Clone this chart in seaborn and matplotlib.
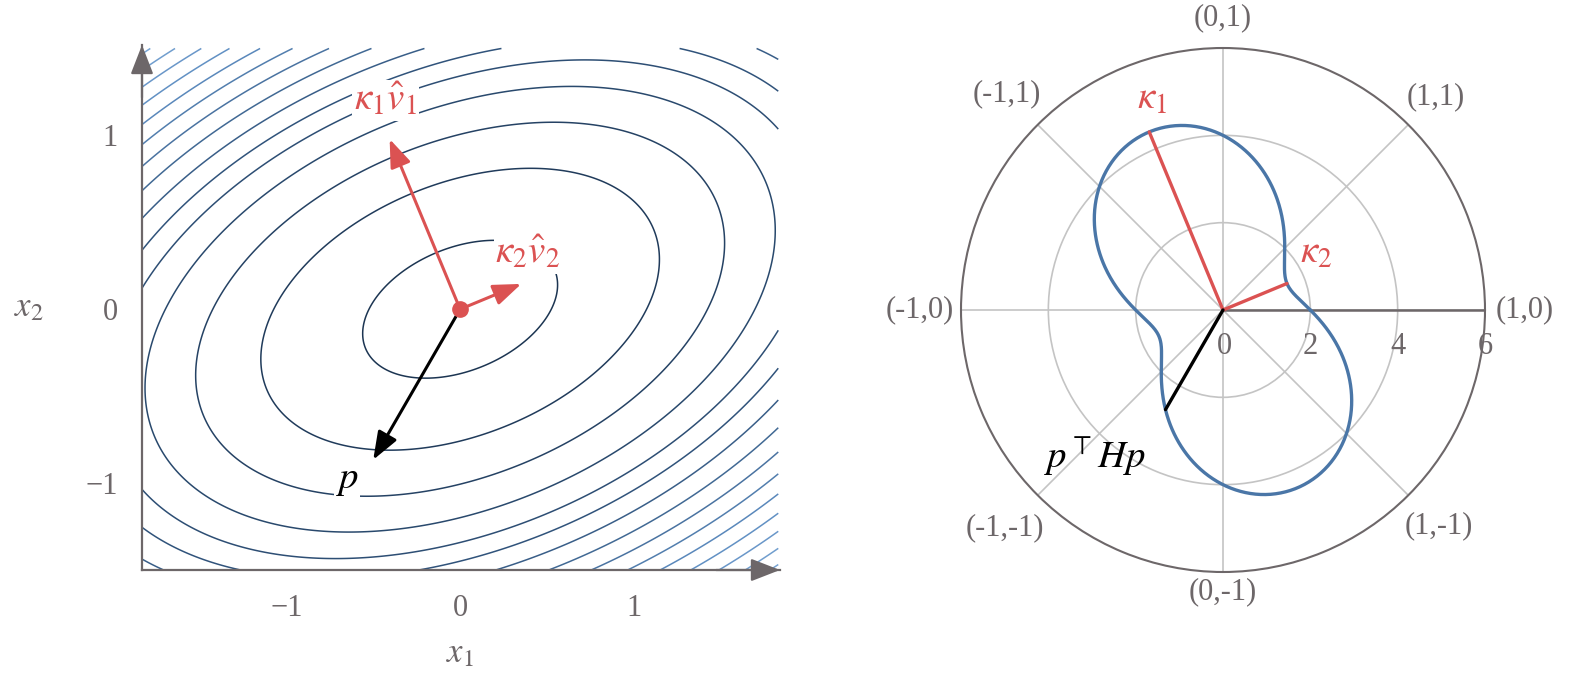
import numpy as np
import matplotlib
matplotlib.use("Agg")
import matplotlib.pyplot as plt
from matplotlib.colors import LinearSegmentedColormap
import seaborn as sns

# Hessian of the quadratic and the chosen direction p
H = np.array([[2.0, -1.0],
              [-1.0, 4.0]])
p_angle_deg = 240.0
arrow_scale = 0.24          # kappa * v_hat is drawn shrunk on the left panel
contour_levels = [0.55, 2.3, 4.05, 5.75, 7.2, 8.4, 9.7, 11.05, 12.4, 13.75,
                  15.1, 16.5, 17.9, 19.3, 20.7, 22.1, 23.5]
x_ticks = [-1, 0, 1]
y_ticks = [-1, 0, 1]
r_ticks = [0, 2, 4, 6]
dir_labels = ['(1,0)', '(1,1)', '(0,1)', '(-1,1)',
              '(-1,0)', '(-1,-1)', '(0,-1)', '(1,-1)']
dir_angles = [0, 45, 90, 135, 180, 225, 270, 315]

GRAY = '#6d6769'
RED = '#db5252'
BLUE = '#4a76a7'
LIGHT = '#c4c4c4'
TICK_FS = 22
MATH_FS = 28

sns.set_theme(style='white')
plt.rcParams['font.family'] = ['Liberation Serif', 'DejaVu Serif']
plt.rcParams['mathtext.fontset'] = 'stix'

# eigen decomposition, sorted so kappa_1 is the largest
kappa, vecs = np.linalg.eigh(H)
order = np.argsort(kappa)[::-1]
kappa = kappa[order]
vecs = vecs[:, order]
v1 = vecs[:, 0] * np.sign(-vecs[0, 0])   # point to upper left
v2 = vecs[:, 1] * np.sign(vecs[0, 1])    # point to upper right
p = np.array([np.cos(np.radians(p_angle_deg)), np.sin(np.radians(p_angle_deg))])

fig = plt.figure(figsize=(15.74, 6.81), dpi=100)

# ---------------- left: contour plot ----------------
ax = fig.add_axes([142 / 1574, 1 - 570 / 681, 638 / 1574, 525 / 681])
xs = np.linspace(-1.83, 1.83, 400)
ys = np.linspace(-1.5, 1.5, 400)
X, Y = np.meshgrid(xs, ys)
F = H[0, 0] * X**2 + 2 * H[0, 1] * X * Y + H[1, 1] * Y**2
cmap = LinearSegmentedColormap.from_list('blu', ['#1c3552', '#2f5279', '#5f8ec2', '#86b0dc'])
ax.contour(X, Y, F, levels=contour_levels, cmap=cmap, linewidths=1.1)
ax.set_xlim(-1.83, 1.84)
ax.set_ylim(-1.5, 1.52)

for s in ['top', 'right']:
    ax.spines[s].set_visible(False)
for s in ['left', 'bottom']:
    ax.spines[s].set_color(GRAY)
    ax.spines[s].set_linewidth(1.6)
ax.set_xticks(x_ticks)
ax.set_yticks(y_ticks)
ax.set_xticklabels(['\u2212' + str(-t) if t < 0 else str(t) for t in x_ticks])
ax.set_yticklabels(['\u2212' + str(-t) if t < 0 else str(t) for t in y_ticks])
ax.tick_params(axis='both', direction='inout', length=13, width=1.0, color=GRAY,
               labelcolor=GRAY, labelsize=TICK_FS)
ax.tick_params(axis='x', pad=11)
ax.tick_params(axis='y', pad=11)

# axis arrow heads
head = dict(arrowstyle='-|>,head_length=0.9,head_width=0.35',
            mutation_scale=20, color=GRAY, lw=1.6, shrinkA=0, shrinkB=0)
ax.annotate('', xy=(0, 1.0), xytext=(0, 0.9), xycoords='axes fraction', arrowprops=head)
ax.annotate('', xy=(1.0, 0), xytext=(0.9, 0), xycoords='axes fraction', arrowprops=head)

ax.set_xlabel(r'$x_1$', fontsize=25, color=GRAY, va='center')
ax.set_ylabel(r'$x_2$', fontsize=25, color=GRAY, rotation=0, ha='center', va='center')
ax.xaxis.set_label_coords(0.498, -0.16)
ax.yaxis.set_label_coords(-0.178, 0.5)

arrow_kw = dict(arrowstyle='-|>,head_length=0.85,head_width=0.32', mutation_scale=20,
                lw=2.2, shrinkA=0, shrinkB=0)
tip1 = kappa[0] * v1 * arrow_scale
tip2 = kappa[1] * v2 * arrow_scale
ax.annotate('', xy=tip1, xytext=(0, 0), arrowprops=dict(color=RED, **arrow_kw))
ax.annotate('', xy=tip2, xytext=(0, 0), arrowprops=dict(color=RED, **arrow_kw))
ax.annotate('', xy=p, xytext=(0, 0), arrowprops=dict(color='black', **arrow_kw))
ax.plot([0], [0], 'o', color=RED, markersize=11, zorder=5)

box = dict(fc='white', ec='none', pad=1.0)
ax.text(-0.43, 1.20, r'$\kappa_1\hat{v}_1$', color=RED, fontsize=MATH_FS,
        ha='center', va='center', bbox=box)
ax.text(0.39, 0.32, r'$\kappa_2\hat{v}_2$', color=RED, fontsize=MATH_FS,
        ha='center', va='center', bbox=box)
ax.text(-0.65, -0.98, r'$p$', color='black', fontsize=MATH_FS,
        ha='center', va='center', bbox=box)

# ---------------- right: polar plot of p^T H p ----------------
pax = fig.add_axes([(1223 - 262) / 1574, 1 - (310 + 262) / 681, 524 / 1574, 524 / 681],
                   projection='polar')
theta = np.linspace(0, 2 * np.pi, 721)
dirs = np.stack([np.cos(theta), np.sin(theta)])
r_curve = np.einsum('in,ij,jn->n', dirs, H, dirs)
sns.lineplot(x=theta, y=r_curve, ax=pax, color=BLUE, lw=2.4, sort=False, zorder=4)

pax.set_rlim(0, 6)
pax.set_rticks([2, 4])
pax.set_yticklabels([])
pax.set_xticks(np.radians(dir_angles))
pax.set_xticklabels([])
pax.grid(True, color=LIGHT, lw=1.2)
pax.spines['polar'].set_color(GRAY)
pax.spines['polar'].set_linewidth(1.5)
pax.plot([0, 0], [0, 6], color=GRAY, lw=1.8, zorder=3)

a1 = np.arctan2(v1[1], v1[0])
a2 = np.arctan2(v2[1], v2[0])
ap = np.radians(p_angle_deg)
pax.plot([a1, a1], [0, kappa[0]], color=RED, lw=2.4, zorder=5)
pax.plot([a2, a2], [0, kappa[1]], color=RED, lw=2.4, zorder=5)
pax.plot([ap, ap], [0, p @ H @ p], color='black', lw=2.4, zorder=5)

pax.text(np.radians(108.7), 5.1, r'$\kappa_1$', color=RED, fontsize=MATH_FS,
         ha='center', va='center')
pax.text(np.radians(31), 2.5, r'$\kappa_2$', color=RED, fontsize=MATH_FS,
         ha='center', va='center')
pax.text(np.radians(228.6), 4.45, r'$p^{\top}Hp$', color='black', fontsize=MATH_FS,
         ha='center', va='center')

lab_r = [6.9, 6.9, 6.69, 7.0, 6.95, 7.05, 6.46, 7.0]
for lab, ang, rr in zip(dir_labels, dir_angles, lab_r):
    pax.text(np.radians(ang), rr, lab, color=GRAY, fontsize=TICK_FS,
             ha='center', va='center', clip_on=False)
for rt in r_ticks:
    pax.annotate(str(rt), xy=(0, rt), xytext=(1 if rt == 0 else 0, -26),
                 textcoords='offset points', ha='center', va='center',
                 color=GRAY, fontsize=TICK_FS)

fig.savefig('out.png', dpi=100)
